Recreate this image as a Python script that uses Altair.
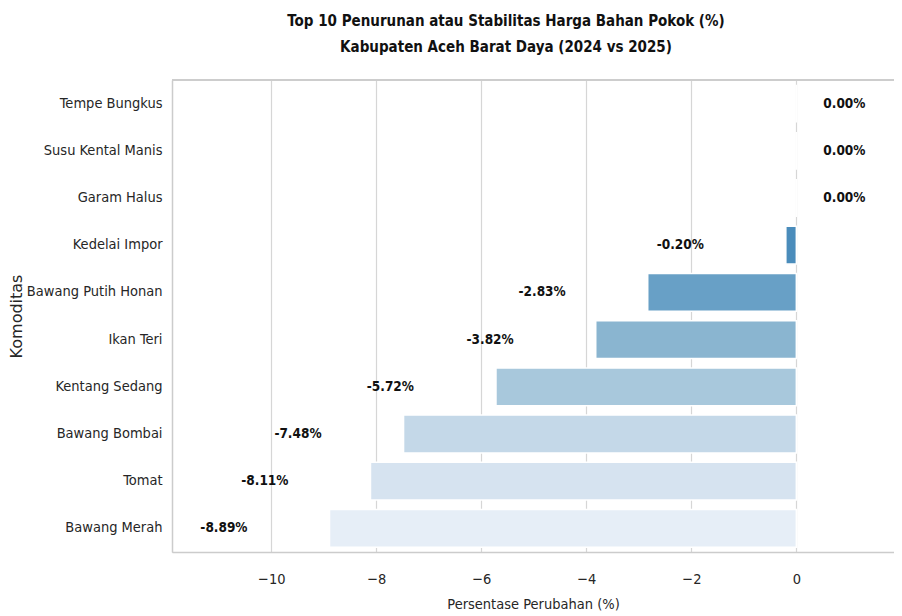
import altair as alt
import pandas as pd

categories = ["Tempe Bungkus", "Susu Kental Manis", "Garam Halus", "Kedelai Impor",
              "Bawang Putih Honan", "Ikan Teri", "Kentang Sedang", "Bawang Bombai",
              "Tomat", "Bawang Merah"]
values = [0.00, 0.00, 0.00, -0.20, -2.83, -3.82, -5.72, -7.48, -8.11, -8.89]
colors = ["#2f6d9e", "#3a7aab", "#4384b5", "#4a8cbb", "#68a0c6", "#8ab5d0",
          "#a8c8dc", "#c4d8e8", "#d6e3f0", "#e6eef7"]
x_ticks = [-10, -8, -6, -4, -2, 0, 2]

df = pd.DataFrame({"Komoditas": categories, "Perubahan": values, "color": colors})
df["label"] = [f"{v:.2f}%" for v in values]

FONT = "DejaVu Sans Condensed, DejaVu Sans"
FRAME = "#cccccc"

x_scale = alt.Scale(domain=[-11.89, 1.86], nice=False, zero=False)
y_enc = alt.Y("Komoditas:N", sort=categories,
              scale=alt.Scale(paddingInner=0.2, paddingOuter=0.1),
              axis=alt.Axis(title="Komoditas", domain=True, domainColor=FRAME,
                            domainWidth=1.5, ticks=False,
                            labelPadding=10, labelFontSize=14.5, labelFont=FONT,
                            labelColor="#262626", titleFont="DejaVu Sans",
                            titleFontSize=16, titleFontWeight="normal",
                            titleColor="#262626", titlePadding=2, grid=False))

bars = alt.Chart(df).mark_bar(stroke="white", strokeWidth=1.5).encode(
    x=alt.X("Perubahan:Q", scale=x_scale,
            axis=alt.Axis(title="Persentase Perubahan (%)", values=x_ticks,
                          domain=True, domainColor=FRAME, domainWidth=1.5,
                          ticks=False, labelPadding=20,
                          labelFontSize=14.5, labelFont=FONT, labelColor="#262626",
                          titleFont=FONT, titleFontSize=14.5, titleFontWeight="normal",
                          titleColor="#262626", titlePadding=12,
                          grid=True, gridColor="#d6d6d6", gridWidth=1.2)),
    y=y_enc,
    color=alt.Color("color:N", scale=None),
)

top_border = alt.Chart(df).mark_rule(color=FRAME, strokeWidth=1.5).encode(
    x=alt.value(0), x2=alt.value(722), y=alt.value(0)
)

neg_text = alt.Chart(df).transform_filter("datum.Perubahan < 0").mark_text(
    align="right", baseline="middle", dx=-82, font=FONT, fontSize=13.5,
    fontWeight="bold", color="#111111"
).encode(x=alt.X("Perubahan:Q", scale=x_scale), y=alt.Y("Komoditas:N", sort=categories), text="label:N")

zero_text = alt.Chart(df).transform_filter("datum.Perubahan >= 0").mark_text(
    align="left", baseline="middle", dx=27, font=FONT, fontSize=13.5,
    fontWeight="bold", color="#111111"
).encode(x=alt.X("Perubahan:Q", scale=x_scale), y=alt.Y("Komoditas:N", sort=categories), text="label:N")

chart = alt.layer(bars, top_border, neg_text, zero_text).properties(
    width=722, height=472,
    title=alt.TitleParams(
        ["Top 10 Penurunan atau Stabilitas Harga Bahan Pokok (%)",
         "Kabupaten Aceh Barat Daya (2024 vs 2025)"],
        font=FONT, fontSize=15, fontWeight="bold", color="#111111",
        anchor="middle", dx=-27, offset=24, lineHeight=26),
    autosize=alt.AutoSizeParams(type="none"),
    padding={"left": 164, "top": 72, "right": 0, "bottom": 62},
).configure_view(stroke=None).configure(background="white")

chart.save("out.html", embed_options={"renderer": "svg", "actions": False})
